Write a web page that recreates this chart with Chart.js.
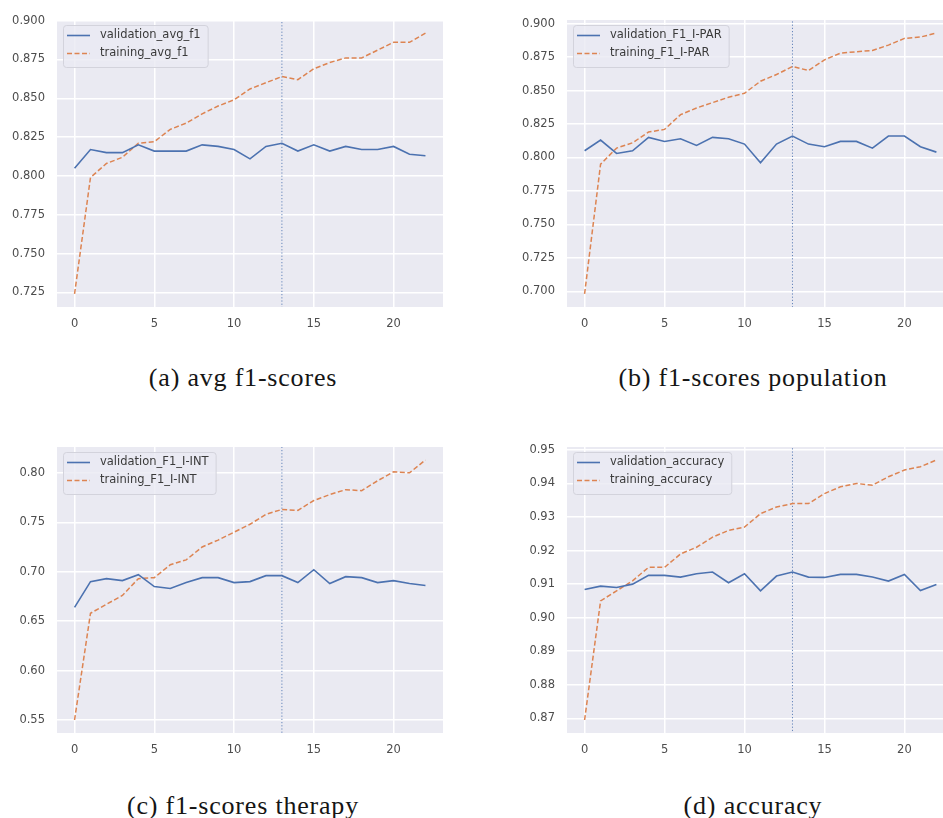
<!DOCTYPE html>
<html>
<head>
<meta charset="utf-8">
<script src="https://cdn.jsdelivr.net/npm/chart.js@4.4.1/dist/chart.umd.min.js"></script>
<style>
  html, body { margin: 0; padding: 0; background: #fff; overflow: hidden; width: 943px; height: 818px; }
  canvas { position: absolute; }
  .caption { position: absolute; font-family: "Liberation Serif", serif; font-size: 26px; letter-spacing: 0.8px; color: #151515; white-space: nowrap; transform: translate(-50%, -50%); }
</style>
</head>
<body>
<canvas id="chart-a" width="460" height="335" style="left:0;top:0"></canvas>
<canvas id="chart-b" width="450" height="335" style="left:510px;top:0"></canvas>
<canvas id="chart-c" width="460" height="334" style="left:0;top:427px"></canvas>
<canvas id="chart-d" width="450" height="334" style="left:510px;top:427px"></canvas>
<div class="caption" style="left:243px;top:378px">(a) avg f1-scores</div>
<div class="caption" style="left:753px;top:378px">(b) f1-scores population</div>
<div class="caption" style="left:243px;top:806px">(c) f1-scores therapy</div>
<div class="caption" style="left:753px;top:806px">(d) accuracy</div>
<script>
(function () {
  'use strict';

  var epochs = [0, 1, 2, 3, 4, 5, 6, 7, 8, 9, 10, 11, 12, 13, 14, 15, 16, 17, 18, 19, 20, 21, 22];
  var stopEpoch = 13;
  var xTicks = [0, 5, 10, 15, 20];

  var valAvgF1 = [0.805, 0.817, 0.815, 0.815, 0.820, 0.816, 0.816, 0.816, 0.820, 0.819, 0.817, 0.811, 0.819, 0.821, 0.816, 0.820, 0.816, 0.819, 0.817, 0.817, 0.819, 0.814, 0.813];
  var trainAvgF1 = [0.724, 0.799, 0.808, 0.812, 0.821, 0.822, 0.830, 0.834, 0.840, 0.845, 0.849, 0.856, 0.860, 0.864, 0.862, 0.869, 0.873, 0.876, 0.876, 0.881, 0.886, 0.886, 0.892];
  var yTicksA = [0.725, 0.750, 0.775, 0.800, 0.825, 0.850, 0.875, 0.900];

  var valPar = [0.805, 0.813, 0.803, 0.805, 0.815, 0.812, 0.814, 0.809, 0.815, 0.814, 0.810, 0.796, 0.810, 0.816, 0.810, 0.808, 0.812, 0.812, 0.807, 0.816, 0.816, 0.808, 0.804];
  var trainPar = [0.698, 0.795, 0.807, 0.811, 0.819, 0.821, 0.832, 0.837, 0.841, 0.845, 0.848, 0.857, 0.862, 0.868, 0.865, 0.873, 0.878, 0.879, 0.880, 0.884, 0.889, 0.890, 0.893];
  var yTicksB = [0.700, 0.725, 0.750, 0.775, 0.800, 0.825, 0.850, 0.875, 0.900];

  var valInt = [0.664, 0.690, 0.693, 0.691, 0.697, 0.685, 0.683, 0.689, 0.694, 0.694, 0.689, 0.690, 0.696, 0.696, 0.689, 0.702, 0.688, 0.695, 0.694, 0.689, 0.691, 0.688, 0.686];
  var trainInt = [0.550, 0.658, 0.667, 0.676, 0.693, 0.694, 0.707, 0.712, 0.725, 0.732, 0.740, 0.748, 0.758, 0.763, 0.762, 0.772, 0.778, 0.783, 0.782, 0.792, 0.801, 0.800, 0.813];
  var yTicksC = [0.55, 0.60, 0.65, 0.70, 0.75, 0.80];

  var valAcc = [0.9084, 0.9094, 0.9090, 0.9100, 0.9126, 0.9126, 0.9121, 0.9131, 0.9136, 0.9104, 0.9131, 0.9080, 0.9124, 0.9136, 0.9121, 0.9120, 0.9129, 0.9129, 0.9121, 0.9109, 0.9129, 0.9081, 0.9099];
  var trainAcc = [0.8695, 0.9050, 0.9080, 0.9110, 0.9150, 0.9150, 0.9190, 0.9210, 0.9240, 0.9260, 0.9270, 0.9310, 0.9330, 0.9340, 0.9340, 0.9370, 0.9390, 0.9400, 0.9395, 0.9420, 0.9440, 0.9450, 0.9470];
  var yTicksD = [0.87, 0.88, 0.89, 0.90, 0.91, 0.92, 0.93, 0.94, 0.95];

  var tickFont = { family: 'DejaVu Sans', size: 11.5 };
  var tickColor = '#4d4d4d';

  var axesFace = {
    id: 'axesFace',
    beforeDraw: function (chart) {
      var a = chart.chartArea, ctx = chart.ctx;
      ctx.save();
      ctx.fillStyle = '#EAEAF2';
      ctx.fillRect(a.left, a.top, a.right - a.left, a.bottom - a.top);
      ctx.restore();
    }
  };

  var insetLegend = {
    id: 'insetLegend',
    afterDraw: function (chart) {
      var a = chart.chartArea, ctx = chart.ctx;
      var items = chart.data.datasets.filter(function (d) { return d.label; });
      ctx.save();
      ctx.font = '11.5px "DejaVu Sans"';
      var textW = 0;
      items.forEach(function (d) { textW = Math.max(textW, ctx.measureText(d.label).width); });
      var x = a.left + 6, y = a.top + 5, w = 37 + textW + 7, h = 42;
      ctx.beginPath();
      ctx.roundRect(x + 0.5, y + 0.5, w, h, 3);
      ctx.fillStyle = 'rgba(234, 234, 242, 0.8)';
      ctx.fill();
      ctx.strokeStyle = '#d3d3dc';
      ctx.lineWidth = 1;
      ctx.stroke();
      items.forEach(function (d, i) {
        var ry = y + 10.5 + i * 18;
        ctx.beginPath();
        ctx.setLineDash(d.borderDash || []);
        ctx.strokeStyle = d.borderColor;
        ctx.lineWidth = d.borderWidth;
        ctx.moveTo(x + 4, ry);
        ctx.lineTo(x + 27, ry);
        ctx.stroke();
        ctx.setLineDash([]);
        ctx.fillStyle = '#3a3a3a';
        ctx.textBaseline = 'middle';
        ctx.fillText(d.label, x + 37, ry);
      });
      ctx.restore();
    }
  };

  function points(values) {
    return epochs.map(function (e, i) { return { x: e, y: values[i] }; });
  }

  function makeChart(id, cfg) {
    var all = cfg.val.concat(cfg.train);
    var lo = Math.min.apply(null, all), hi = Math.max.apply(null, all);
    var pad = (hi - lo) * 0.05;
    var yMin = lo - pad, yMax = hi + pad;

    return new Chart(document.getElementById(id), {
      type: 'line',
      data: {
        datasets: [
          {
            label: cfg.valLabel,
            data: points(cfg.val),
            borderColor: '#4C72B0',
            borderWidth: 1.6,
            pointRadius: 0,
            tension: 0
          },
          {
            label: cfg.trainLabel,
            data: points(cfg.train),
            borderColor: '#DD8452',
            borderWidth: 1.5,
            borderDash: [5, 2.5],
            pointRadius: 0,
            tension: 0
          },
          {
            label: '',
            data: [{ x: stopEpoch, y: yMin - 1 }, { x: stopEpoch, y: yMax + 1 }],
            borderColor: 'rgba(76, 114, 176, 0.85)',
            borderWidth: 1,
            borderDash: [1.2, 2],
            pointRadius: 0,
            clip: 0
          }
        ]
      },
      options: {
        responsive: false,
        animation: false,
        devicePixelRatio: 1,
        layout: { padding: { top: 20, right: cfg.padRight, left: 0, bottom: 0 } },
        plugins: { legend: { display: false }, tooltip: { enabled: false } },
        scales: {
          x: {
            type: 'linear',
            min: -1.1,
            max: 23.1,
            afterBuildTicks: function (s) { s.ticks = xTicks.map(function (v) { return { value: v }; }); },
            afterFit: function (s) { s.height = 28; },
            grid: { color: '#ffffff', lineWidth: 1.5, drawTicks: false },
            border: { display: false },
            ticks: { padding: 10, color: tickColor, font: tickFont, maxRotation: 0, callback: function (v) { return String(v); } }
          },
          y: {
            min: yMin,
            max: yMax,
            afterBuildTicks: function (s) { s.ticks = cfg.yTicks.map(function (v) { return { value: v }; }); },
            afterFit: function (s) { s.width = 57; },
            grid: { color: '#ffffff', lineWidth: 1.5, drawTicks: false },
            border: { display: false },
            ticks: { padding: 12, color: tickColor, font: tickFont, callback: function (v) { return Number(v).toFixed(cfg.digits); } }
          }
        }
      },
      plugins: [axesFace, insetLegend]
    });
  }

  makeChart('chart-a', { val: valAvgF1, train: trainAvgF1, valLabel: 'validation_avg_f1', trainLabel: 'training_avg_f1', yTicks: yTicksA, digits: 3, padRight: 17 });
  makeChart('chart-b', { val: valPar, train: trainPar, valLabel: 'validation_F1_I-PAR', trainLabel: 'training_F1_I-PAR', yTicks: yTicksB, digits: 3, padRight: 6 });
  makeChart('chart-c', { val: valInt, train: trainInt, valLabel: 'validation_F1_I-INT', trainLabel: 'training_F1_I-INT', yTicks: yTicksC, digits: 2, padRight: 17 });
  makeChart('chart-d', { val: valAcc, train: trainAcc, valLabel: 'validation_accuracy', trainLabel: 'training_accuracy', yTicks: yTicksD, digits: 2, padRight: 6 });
})();
</script>
</body>
</html>
